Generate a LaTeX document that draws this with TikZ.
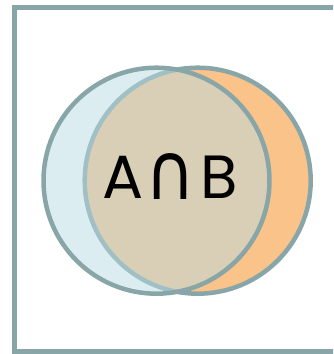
\documentclass[tikz,border=0pt]{standalone}
\usepackage{fontspec}
\setmainfont{Poppins}
\newfontfamily\symfont{DejaVu Sans}
\definecolor{edgec}{HTML}{88A6A8}
\definecolor{orangec}{HTML}{F9C38A}
\definecolor{bluec}{HTML}{B9DBE3}
\tikzset{
  frame/.style={draw=edgec, line width=5pt},
  setb/.style={draw=edgec, line width=4.5pt, fill=orangec},
  seta/.style={draw=edgec, line width=4.5pt, fill=bluec, fill opacity=0.5, draw opacity=1},
  lbl/.style={font=\fontsize{61}{68}\selectfont, text=black, inner sep=0pt}
}
\begin{document}
\begin{tikzpicture}[x=1pt,y=1pt]
\useasboundingbox (0,0) rectangle (333,354);
\begin{scope}
\clip (0,0) rectangle (333,354);
\draw[frame] (14,2.5) rectangle (345,346.5);
\end{scope}
\path[setb] (197.7,173.3) circle[radius=113];
\path[seta] (156.5,173.3) circle[radius=113];
\node[lbl] (t) at (170,177) {A\kern0.03em\raisebox{-0.03em}{\scalebox{1.12}[1.3]{\symfont ∩}}\kern0.08em B};
\end{tikzpicture}
\end{document}
